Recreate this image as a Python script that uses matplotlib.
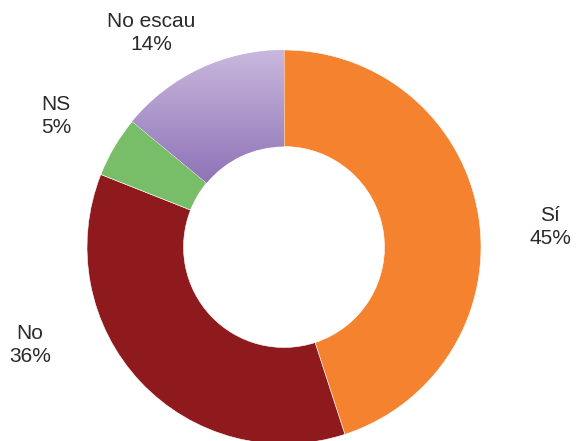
import numpy as np
import matplotlib.pyplot as plt
from matplotlib.colors import LinearSegmentedColormap

# data
labels = ['Sí', 'No', 'NS', 'No escau']
values = [45, 36, 5, 14]
colors = ['#f5822e', '#8e1a1e', '#78bd67', '#a995c9']

W, H = 582, 441
fig = plt.figure(figsize=(W / 100, H / 100), dpi=100)
ax = fig.add_axes([0, 0, 1, 1])

cx, cy, r = 284, H - 247, 197
wedges, _ = ax.pie(values, colors=colors, startangle=90, counterclock=False,
                   center=(cx, cy), radius=r, frame=True,
                   wedgeprops=dict(width=r * 0.49, edgecolor='white', linewidth=0.4))

# vertical gradient on the purple slice (dark at its lower tip, light at the top)
grad = LinearSegmentedColormap.from_list('purp', ['#8a6eb4', '#c9b8dd'])
img = ax.imshow(np.linspace(0, 1, 256).reshape(-1, 1), cmap=grad, origin='lower',
                extent=[cx - r, cx, cy + 55, cy + r], aspect='auto',
                zorder=wedges[3].get_zorder())
img.set_clip_path(wedges[3])

ax.set_xlim(0, W)
ax.set_ylim(0, H)
ax.axis('off')

lbl_pos = [(550, H - 227), (30, H - 345), (56, H - 116), (151, H - 33)]
for lab, v, (x, y) in zip(labels, values, lbl_pos):
    ax.text(x, y, f'{lab}\n{v}%', ha='center', va='center', fontsize=15,
            family='Liberation Sans', color='#2a2a2a', linespacing=1.25)

fig.savefig('out.png', dpi=100)
